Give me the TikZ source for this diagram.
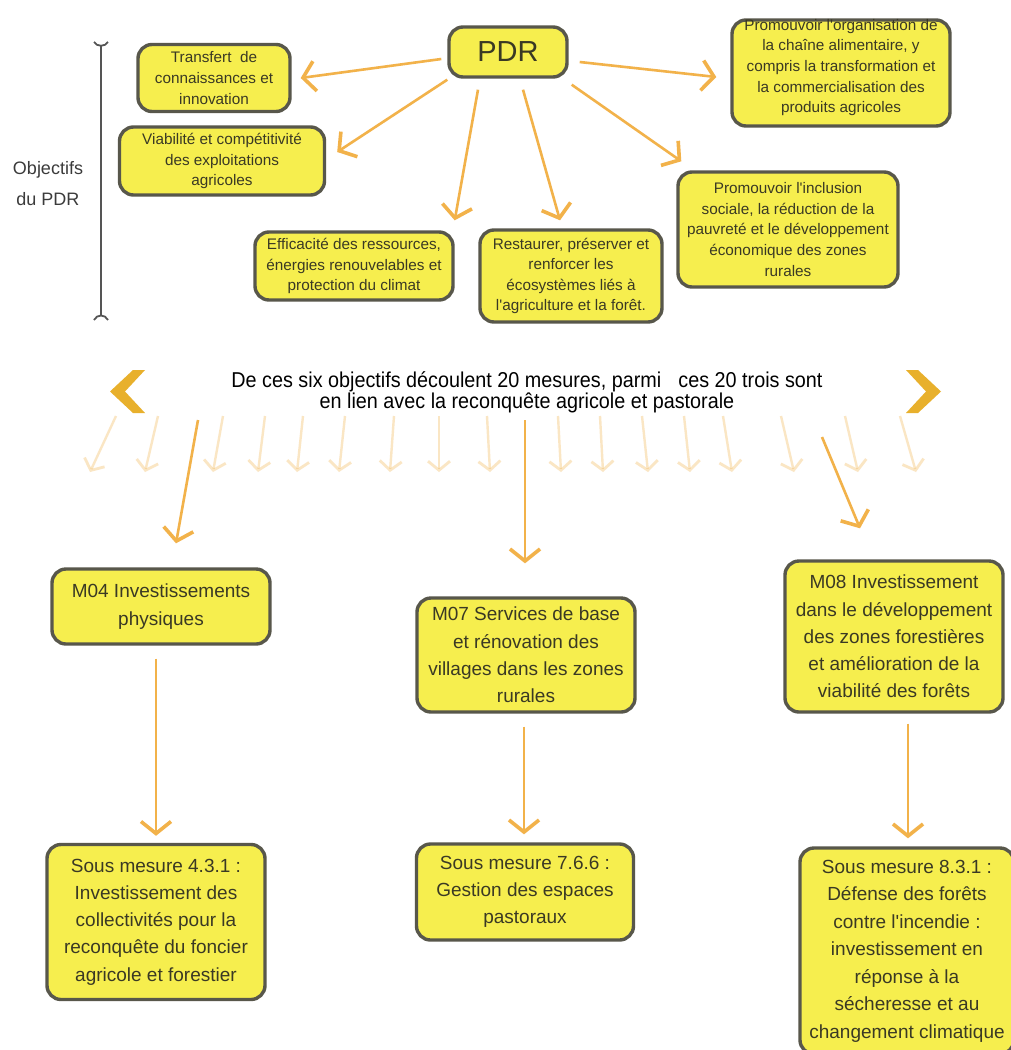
\documentclass[tikz,border=0pt]{standalone}
\usepackage{fontspec}
\setmainfont{Liberation Sans}
\newfontfamily\condfont[FakeStretch=0.92]{Liberation Sans}
\usetikzlibrary{arrows.meta,calc}
\definecolor{boxfill}{HTML}{F6EE4E}
\definecolor{boxline}{HTML}{58574B}
\definecolor{txt}{HTML}{3A3924}
\definecolor{arr}{HTML}{F2B24A}
\definecolor{chev}{HTML}{E8B02C}
\definecolor{brk}{HTML}{555555}
\newcommand\apo{\textquotesingle}
\begin{document}
\begin{tikzpicture}[x=1pt,y=-1pt,
  boxshape/.style={draw=boxline, fill=boxfill, line width=3.4pt, rounded corners=14pt, inner sep=3pt},
  box/.style={boxshape, align=center, text=txt},
  topbox/.style={box, font=\fontsize{15.3}{20.6}\selectfont},
  lowbox/.style={box, font=\fontsize{19}{27.3}\selectfont},
  conn/.style={draw=arr, line width=2.6pt, -{Straight Barb[length=12pt,width=30pt,line width=3.6pt]}},
  faded/.style={draw=arr, draw opacity=0.32, line width=2.4pt, -{Straight Barb[length=9pt,width=22pt,line width=2.8pt]}},
  bracket/.style={draw=brk, line width=1.8pt}]
\useasboundingbox (0,0) rectangle (1011,1050);
\clip (0,0) rectangle (1011,1050);
\fill[white] (0,0) rectangle (1011,1050);

% left bracket and label
\draw[bracket] (94,42) .. controls (97,47) and (105,47) .. (108,42);
\draw[bracket] (101,46) -- (101,315);
\draw[bracket] (94,320) .. controls (97,314) and (105,314) .. (108,320);
\node[align=center, text=brk!70!black, font=\fontsize{18}{31}\selectfont] (obj) at (48,184) {Objectifs\\du PDR};

% top boxes
\node[box, minimum width=118pt, minimum height=50pt, font=\fontsize{29}{30}\selectfont] (pdr) at (508,52) {PDR};
\node[topbox, minimum width=152pt, minimum height=67pt] (t1) at (214,78) {Transfert\ \ de\\connaissances et\\innovation};
\node[topbox, minimum width=205pt, minimum height=68pt] (t2) at (222,161) {Viabilité et compétitivité\\des exploitations\\agricoles};
\node[topbox, minimum width=198pt, minimum height=68pt] (t3) at (354,266) {Efficacité des ressources,\\énergies renouvelables et\\protection du climat};
\node[topbox, minimum width=182pt, minimum height=92pt] (t4) at (571,276) {Restaurer, préserver et\\renforcer les\\écosystèmes liés à\\l\apo agriculture et la forêt.};
\node[topbox, minimum width=220pt, minimum height=115pt] (t5) at (788,229.5) {Promouvoir l\apo inclusion\\sociale, la réduction de la\\pauvreté et le développement\\économique des zones\\rurales};
\node[boxshape, minimum width=218pt, minimum height=106pt] (t6) at (841,73) {};
\node[align=center, text=txt, font=\fontsize{15.3}{20.6}\selectfont] (t6txt) at (841,67.5) {Promouvoir l\apo organisation de\\la chaîne alimentaire, y\\compris la transformation et\\la commercialisation des\\produits agricoles};

% connectors from PDR
\draw[conn] ($(pdr.west)+(-6,7)$) -- ($(t1.east)+(9,0)$);
\draw[conn] ($(pdr.south west)+(0,1)$) -- ($(t2.east)+(11,-9)$);
\draw[conn] ($(pdr.south)+(-30,11)$) -- ($(t3.north east)+(0,-10)$);
\draw[conn] ($(pdr.south)+(15,11)$) -- ($(t4.north)+(-11,-8)$);
\draw[conn] ($(pdr.south east)+(3,6)$) -- ($(t5.north west)+(5,-9)$);
\draw[conn] ($(pdr.east)+(11,10)$) -- ($(t6.west)+(-14,4)$);

% chevrons
\fill[chev] (133,370) -- (145,370) -- (125,391.5) -- (145,413) -- (133,413) -- (110,391.5) -- cycle;
\fill[chev] (918,370) -- (906,370) -- (926,391.5) -- (906,413) -- (918,413) -- (941,391.5) -- cycle;

% middle text
\node[align=center, text=black, font=\condfont\fontsize{21.5}{18.5}\selectfont] (mid) at (527,392)
  {De ces six objectifs découlent 20 mesures, parmi\hspace{0.8em}ces 20 trois sont\\en lien avec la reconquête agricole et pastorale};

% faded arrows
\foreach \a/\b in {116/90,158/145,223/213,265/258,303/297,345/339,394/390,439/439,487/490,558/561,600/603,642/648,684/690,723/732,781/794,845/858,900/916}
  \draw[faded] (\a,416) -- (\b,472);

% bottom boxes
\node[lowbox, minimum width=218pt, minimum height=75pt] (m04) at (161,606.5) {M04 Investissements\\physiques};
\node[lowbox, minimum width=218pt, minimum height=114pt] (m07) at (526,655) {M07 Services de base\\et rénovation des\\villages dans les zones\\rurales};
\node[lowbox, minimum width=218pt, minimum height=151pt] (m08) at (894,636.5) {M08 Investissement\\dans le développement\\des zones forestières\\et amélioration de la\\viabilité des forêts};
\node[lowbox, minimum width=218pt, minimum height=155pt] (s4) at (156,922) {Sous mesure 4.3.1 :\\Investissement des\\collectivités pour la\\reconquête du foncier\\agricole et forestier};
\node[lowbox, minimum width=217pt, minimum height=96pt] (s7) at (525,892) {Sous mesure 7.6.6 :\\Gestion des espaces\\pastoraux};
\node[boxshape, minimum width=214pt, minimum height=206pt] (s8) at (907,951) {};
\node[align=center, text=txt, font=\fontsize{19}{27.5}\selectfont] (s8txt) at (907,951) {Sous mesure 8.3.1 :\\Défense des forêts\\contre l\apo incendie :\\investissement en\\réponse à la\\sécheresse et au\\changement climatique};

% solid arrows from the measures row
\coordinate (r1) at (198,420);
\coordinate (r2) at (525,420);
\coordinate (r3) at (822,437);
\draw[conn] (r1) -- ($(m04.north)+(15,-24)$);
\draw[conn] (r2) -- ($(m07.north)+(-1,-33)$);
\draw[conn] (r3) -- ($(m08.north)+(-34,-31)$);

% arrows to sub-measures
\draw[conn] ($(m04.south)+(-5,13)$) -- ($(s4.north)+(0,-7)$);
\draw[conn] ($(m07.south)+(-2,13)$) -- ($(s7.north)+(-1,-8)$);
\draw[conn] ($(m08.south)+(14,10)$) -- ($(s8.north)+(1,-8)$);
\end{tikzpicture}
\end{document}
